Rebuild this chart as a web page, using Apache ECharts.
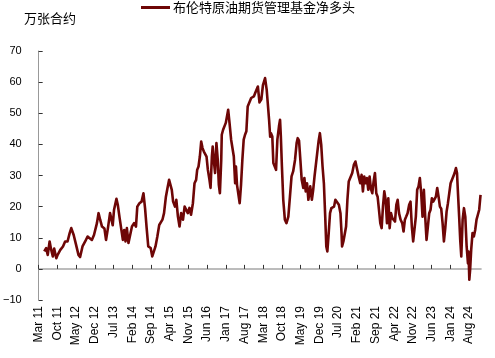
<!DOCTYPE html>
<html>
<head>
<meta charset="utf-8">
<script src="https://cdn.jsdelivr.net/npm/echarts@6/dist/echarts.min.js"></script>
<style>html,body{margin:0;padding:0;background:#fff}#c{width:495px;height:358px}</style>
</head>
<body>
<div id="c"></div>
<script>
// x values: months elapsed since March 2011 (weekly-ish readings)
var months = [
2.1,2.8,3.4,4.1,4.6,5.3,5.8,6.6,7.1,8.1,9.1,9.9,10.8,11.6,12.2,13.1,14.0,14.9,15.5,16.4,17.4,18.3,19.0,19.9,20.7,21.8,22.4,23.0,23.7,24.6,25.2,25.9,26.7,27.2,27.7,28.2,28.7,29.1,
29.6,30.3,30.9,31.5,32.0,32.5,33.0,33.6,34.2,34.9,35.7,36.4,36.9,37.7,38.5,39.2,39.8,40.4,41.0,41.9,42.5,43.1,43.7,44.4,45.1,45.7,46.3,46.9,47.6,48.2,48.8,49.3,49.8,50.3,51.0,51.5,52.1,52.7,53.3,54.0,54.6,55.2,55.8,
56.4,57.0,57.7,58.3,58.9,59.3,59.8,60.3,60.8,61.3,61.8,62.3,62.8,63.3,63.9,64.3,64.8,65.1,65.5,66.0,66.5,67.0,67.4,67.8,68.3,68.5,69.0,69.5,70.0,70.5,70.9,71.4,72.0,72.6,73.0,73.5,73.8,74.2,74.7,75.2,75.7,76.2,76.7,77.2,77.7,78.2,78.8,79.5,80.0,80.5,81.0,81.5,82.0,82.6,83.3,83.9,84.7,
85.3,85.7,86.2,86.6,86.9,87.4,87.8,88.4,88.8,89.3,89.9,90.3,90.6,91.0,91.5,92.1,92.7,93.4,94.0,94.6,95.2,95.9,96.5,96.9,97.4,97.9,98.4,99.0,99.4,99.9,100.4,100.9,101.6,102.2,102.7,103.2,103.7,104.2,104.7,105.2,105.7,106.2,106.7,107.2,107.6,108.0,108.5,109.0,109.5,110.0,110.5,111.0,
111.6,112.3,112.9,113.3,113.5,114.0,114.5,115.0,115.5,116.0,116.6,117.3,117.9,118.5,119.1,119.7,120.3,120.8,121.3,121.8,122.3,122.8,123.3,123.8,124.3,124.8,125.3,125.8,126.3,126.8,127.3,127.8,128.3,128.8,129.3,129.8,130.3,130.8,131.3,131.8,132.3,132.8,133.3,133.8,134.3,134.8,135.4,136.0,136.5,137.0,137.5,
138.0,138.6,139.1,139.6,140.1,140.6,141.1,141.6,142.1,142.6,143.1,143.6,144.1,144.6,145.1,145.6,146.1,146.6,147.1,147.6,148.1,148.6,149.1,149.6,150.1,150.6,151.1,151.6,152.1,152.6,153.1,153.6,154.1,154.6,155.1,155.6,156.1,156.5,156.8,157.3,157.7,158.1,158.6,159.1,159.6,160.1,160.6,160.8,161.1,161.4,161.8,162.3,162.8,163.3,163.8,164.3,164.8,165.3
];
// 布伦特原油期货管理基金净多头 (万张合约)
var netLong = [
5.6,6.7,4.5,8.8,6.5,4.0,6.5,3.4,4.5,6.1,7.2,8.8,8.8,11.5,13.1,10.9,7.7,4.5,3.8,7.2,8.8,10.4,10.9,9.3,10.9,14.7,17.9,15.8,13.6,13.0,9.3,13.0,17.9,16.0,14.0,19.0,19.5,22.5,
20.6,16.3,15.8,9.3,12.5,8.8,13.1,8.3,8.3,13.6,14.7,13.6,20.0,21.1,21.6,24.3,19.5,13.1,7.2,6.7,4.0,4.2,7.2,10.4,14.1,13.6,15.8,17.9,23.2,26.0,28.6,29.2,25.4,21.6,20.0,22.2,16.8,13.6,17.9,15.8,20.0,20.2,17.9,
19.6,17.4,21.1,27.5,28.6,31.8,32.9,36.1,40.9,38.8,37.7,38.2,36.1,31.8,28.6,26.0,36.1,39.3,35.0,30.8,40.4,35.0,27.0,24.3,35.0,43.1,44.7,44.7,46.9,46.6,51.1,46.9,41.5,41.8,36.1,27.5,32.9,27.0,26.6,21.1,27.0,35.0,41.5,43.1,44.2,52.2,52.7,54.9,54.4,55.4,56.5,56.8,58.6,53.5,54.5,59.0,61.3,
57.6,53.3,47.9,42.5,43.6,42.5,34.0,34.3,31.8,41.5,45.8,47.9,42.5,32.9,22.2,15.8,14.7,16.8,23.2,29.7,31.3,35.0,40.4,42.0,41.2,35.0,28.6,26.0,29.2,24.9,27.5,22.2,26.5,22.2,25.4,29.7,30.2,37.2,40.9,43.6,39.9,32.9,27.5,16.8,7.2,5.6,11.5,17.9,19.5,19.3,20.0,22.2,
22.0,20.6,17.9,11.5,7.2,8.8,8.6,13.6,22.2,28.1,28.6,30.8,33.4,34.5,34.3,29.7,27.5,30.2,24.9,29.7,27.5,29.2,25.4,29.7,25.7,24.3,28.1,30.8,24.3,23.2,19.0,14.7,13.1,20.0,24.9,22.2,14.7,22.7,13.1,17.9,16.3,16.8,15.2,20.6,22.2,17.9,15.8,14.7,12.0,15.8,16.8,
17.9,20.6,21.6,13.6,8.8,8.6,16.8,25.4,26.5,29.2,24.3,16.8,25.4,16.8,9.3,13.6,17.9,19.0,22.7,21.6,22.2,23.2,26.0,23.2,20.0,19.3,14.7,8.8,13.0,18.4,21.1,24.3,27.5,27.9,29.7,30.8,32.4,30.8,25.4,16.8,9.3,4.0,15.8,19.5,16.8,7.2,1.8,5.6,-3.5,-0.3,6.1,11.5,10.4,12.5,15.8,17.4,19.0,23.8
];
var tickLabels = ['Mar 11','Oct 11','May 12','Dec 12','Jul 13','Feb 14','Sep 14','Apr 15','Nov 15','Jun 16','Jan 17','Aug 17','Mar 18','Oct 18','May 19','Dec 19','Jul 20','Feb 21','Sep 21','Apr 22','Nov 22','Jun 23','Jan 24','Aug 24'];
var seriesName = '布伦特原油期货管理基金净多头';
var unitLabel = '万张合约';

var tickPos = tickLabels.map(function(_, i){ return i * 7; });
var data = months.map(function(m, i){ return [m, netLong[i]]; });
var xMax = 165.5;

var chart = echarts.init(document.getElementById('c'), null, {renderer: 'canvas'});
chart.setOption({
  animation: false,
  backgroundColor: '#fff',
  title: {
    text: unitLabel, left: 24, top: 11, padding: 0,
    textStyle: {fontSize: 13, fontWeight: 'normal', color: '#000', fontFamily: 'Noto Sans CJK SC', lineHeight: 14}
  },
  legend: {
    data: [seriesName], left: 141, top: 1, padding: 0,
    icon: 'rect', itemWidth: 29, itemHeight: 3, itemGap: 4,
    textStyle: {fontSize: 13, color: '#000', fontFamily: 'Noto Sans CJK SC', padding: [0,0,0,-2]}
  },
  grid: {left: 37.7, right: 495 - 37.7 - xMax * 2.679, top: 51, bottom: 58, containLabel: false},
  xAxis: [{
    type: 'value', min: 0, max: xMax,
    axisLine: {show: true, onZero: true, lineStyle: {color: '#a6a6a6', width: 1.5}},
    axisTick: {show: true, inside: true, length: 4, customValues: tickPos, lineStyle: {color: '#333'}},
    axisLabel: {show: false},
    splitLine: {show: false}
  }, {
    type: 'value', min: 0, max: xMax, position: 'bottom',
    axisLine: {show: false, onZero: false},
    axisTick: {show: false},
    splitLine: {show: false},
    axisLabel: {
      show: true, rotate: 90, margin: 6, customValues: tickPos,
      fontSize: 12, color: '#000', fontFamily: 'Liberation Sans, Arial',
      formatter: function(v){ var i = Math.round(v / 7); return tickLabels[i] || ''; }
    }
  }],
  yAxis: {
    type: 'value', min: -10, max: 70, interval: 10,
    axisLine: {show: true, lineStyle: {color: '#999', width: 1}},
    axisTick: {show: true, inside: true, length: 4, lineStyle: {color: '#333'}},
    axisLabel: {
      margin: 17, fontSize: 11, color: '#000', fontFamily: 'Liberation Sans, Arial',
      formatter: function(v){ return String(v).replace('-', '\u2212'); }
    },
    splitLine: {show: false}
  },
  series: [{
    name: seriesName, type: 'line', xAxisIndex: 0, data: data,
    showSymbol: false, symbol: 'none',
    lineStyle: {color: '#6e0606', width: 2.6, join: 'round'},
    itemStyle: {color: '#6e0606'}
  }]
});
</script>
</body>
</html>
